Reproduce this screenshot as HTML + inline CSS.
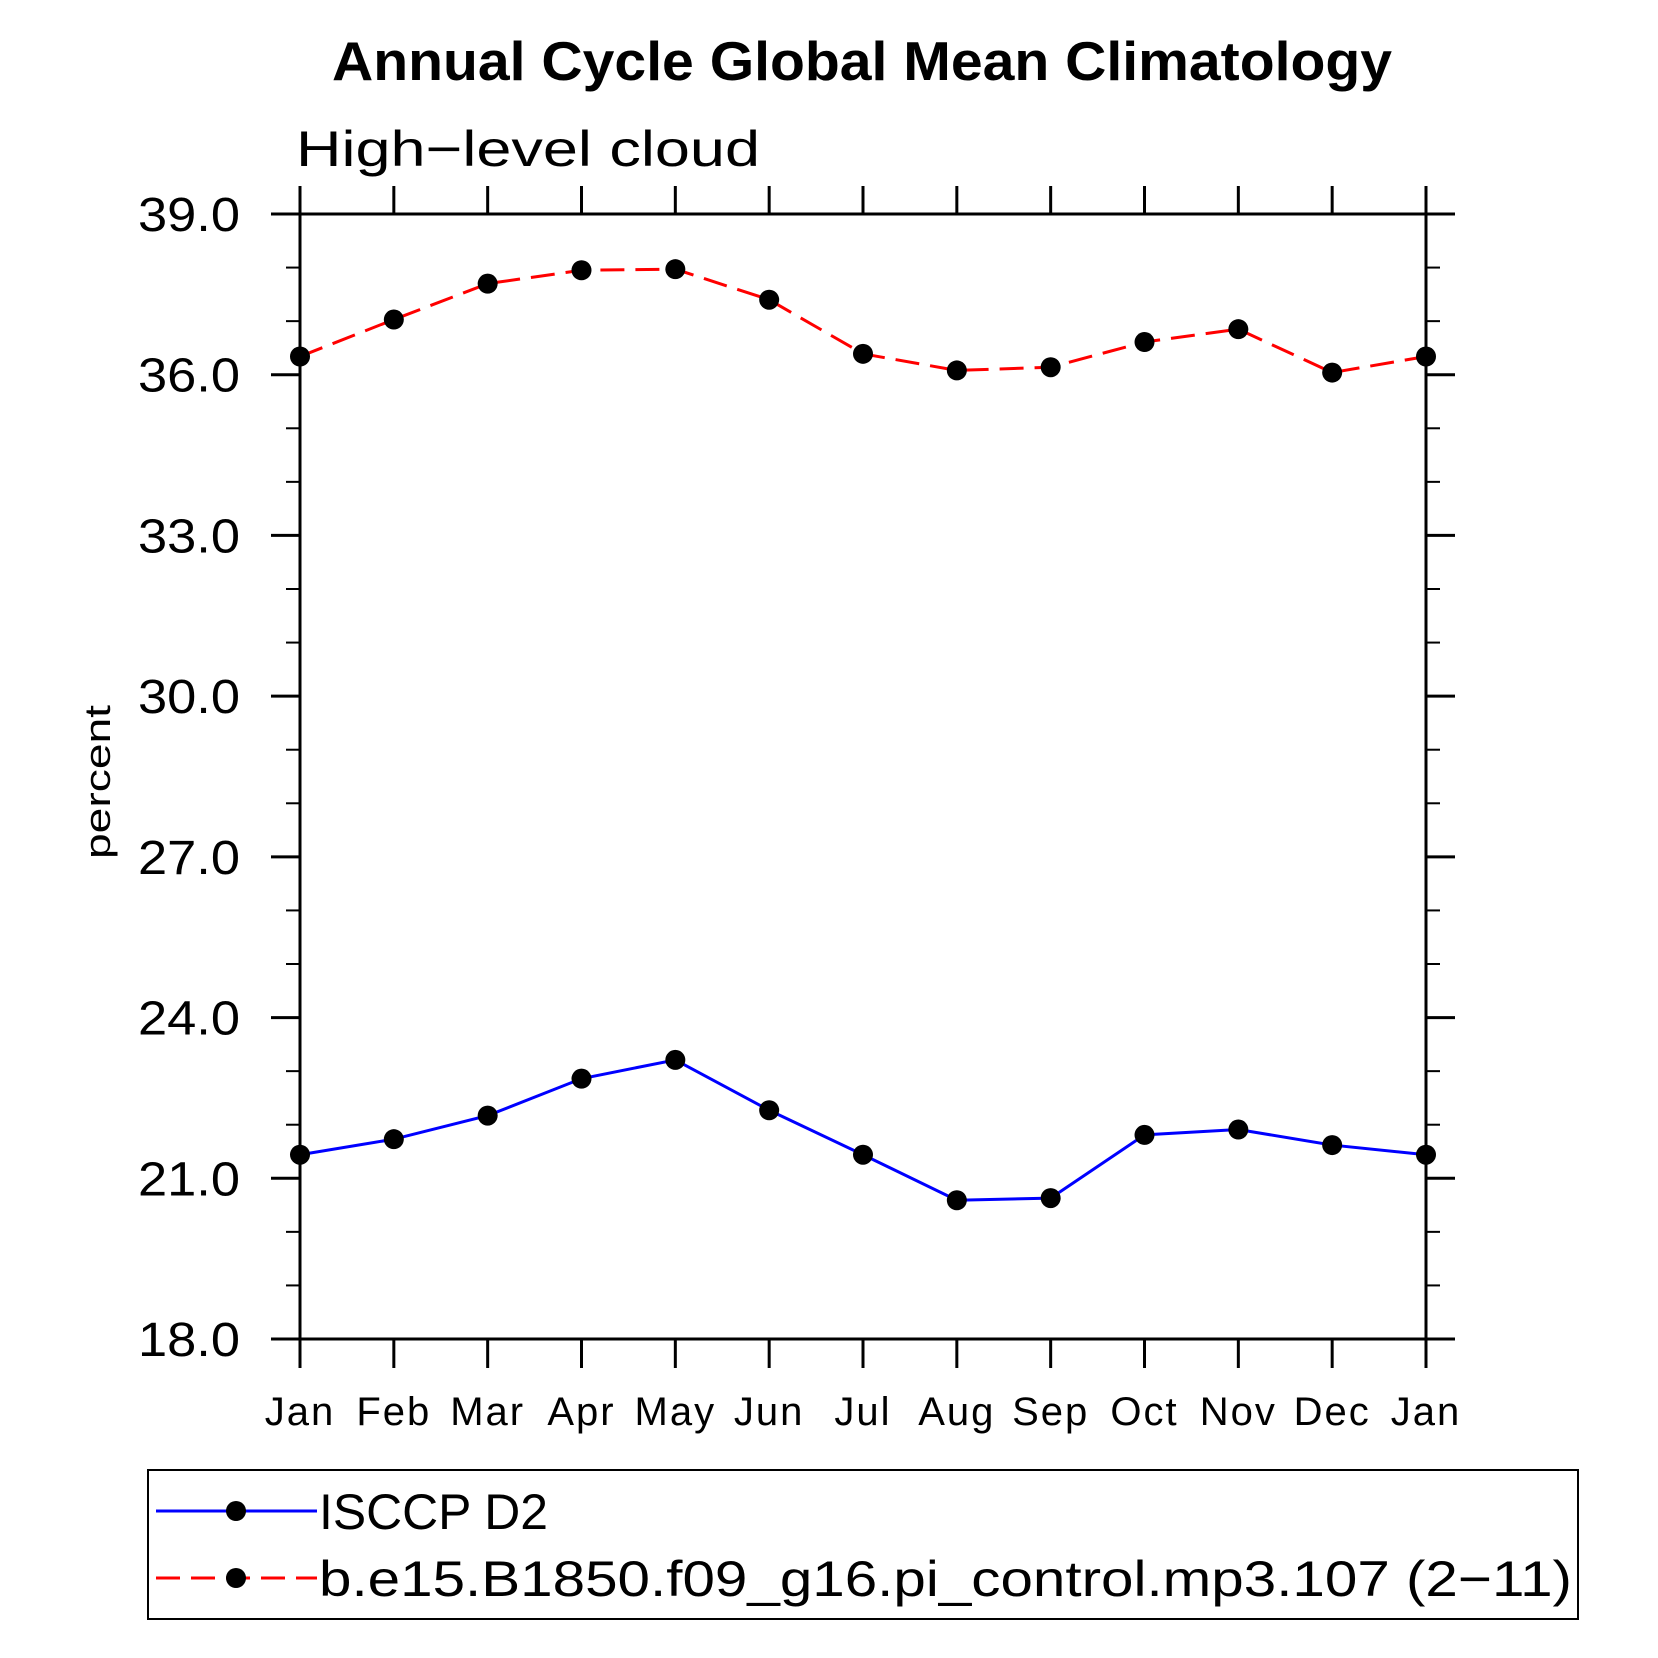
<!DOCTYPE html>
<html><head><meta charset="utf-8"><style>
html,body{margin:0;padding:0;background:#fff}
svg{display:block;font-family:"Liberation Sans",sans-serif}
</style></head><body>
<svg id="chart" width="1658" height="1658" viewBox="0 0 1658 1658" xmlns="http://www.w3.org/2000/svg">
<text x="862" y="80" text-anchor="middle" font-size="55" font-weight="bold" textLength="1060" lengthAdjust="spacingAndGlyphs">Annual Cycle Global Mean Climatology</text>
<text x="296" y="166" font-size="50" font-weight="300" textLength="464" lengthAdjust="spacingAndGlyphs">High−level cloud</text>
<text transform="translate(110,782) rotate(-90)" text-anchor="middle" font-size="36" textLength="154" lengthAdjust="spacingAndGlyphs">percent</text>
<g id="axes"></g>
<g id="series"></g>
<rect x="148" y="1470" width="1430" height="149" fill="none" stroke="#000" stroke-width="2"/>
<g>
<line x1="156" y1="1511" x2="317" y2="1511" stroke="#0000ff" stroke-width="3"/>
<circle cx="236" cy="1511" r="10"/>
<text x="319" y="1529" font-size="50" textLength="229" lengthAdjust="spacingAndGlyphs">ISCCP D2</text>
</g>
<g>
<line x1="156" y1="1578" x2="317" y2="1578" stroke="#ff0000" stroke-width="3" stroke-dasharray="24,11"/>
<circle cx="236" cy="1578" r="10"/>
<text x="319" y="1596" font-size="50" textLength="1253" lengthAdjust="spacingAndGlyphs">b.e15.B1850.f09_g16.pi_control.mp3.107 (2−11)</text>
</g>
</svg>
<script>
const months = ["Jan","Feb","Mar","Apr","May","Jun","Jul","Aug","Sep","Oct","Nov","Dec","Jan"];
const isccpValues = [21.44,21.73,22.17,22.86,23.21,22.27,21.44,20.59,20.63,21.81,21.91,21.62,21.44];
const modelValues = [36.34,37.03,37.70,37.95,37.97,37.40,36.39,36.08,36.14,36.61,36.85,36.04,36.34];
const yTickValues = [18,21,24,27,30,33,36,39];
const yTickLabels = ["18.0","21.0","24.0","27.0","30.0","33.0","36.0","39.0"];
const yMin = 18, yMax = 39;

const NS = "http://www.w3.org/2000/svg";
const L = 300, R = 1426, T = 214, B = 1339;
function xs(i){ return L + (R - L) * i / (months.length - 1); }
function ys(v){ return B - (B - T) * (v - yMin) / (yMax - yMin); }
function mk(tag, attrs, parent){
  const e = document.createElementNS(NS, tag);
  for (const k in attrs) e.setAttribute(k, attrs[k]);
  parent.appendChild(e); return e;
}
const axes = document.getElementById("axes");
const frame = mk("rect", {x:L, y:T, width:R-L, height:B-T, fill:"none", stroke:"#000", "stroke-width":3}, axes);


months.forEach((m, i) => {
  const x = xs(i);
  const t1 = mk("line", {x1:x, y1:B, x2:x, y2:B+29, stroke:"#000", "stroke-width":3}, axes);
  
  
  const t2 = mk("line", {x1:x, y1:T, x2:x, y2:T-28, stroke:"#000", "stroke-width":3}, axes);
  
  
  const lab = mk("text", {x:x, y:1425, "text-anchor":"middle", "font-size":40, "letter-spacing":2}, axes);
  lab.textContent = m;
  
  
});
yTickValues.forEach((v, i) => {
  const y = ys(v);
  const a = mk("line", {x1:L-29, y1:y, x2:L, y2:y, stroke:"#000", "stroke-width":3}, axes);
  
  
  const b = mk("line", {x1:R, y1:y, x2:R+29, y2:y, stroke:"#000", "stroke-width":3}, axes);
  
  
  const lab = mk("text", {x:240, y:y+17, "text-anchor":"end", "font-size":48, textLength:102, lengthAdjust:"spacingAndGlyphs"}, axes);
  lab.textContent = yTickLabels[i];
  
  
});
for (let v = yMin + 1; v < yMax; v++) {
  if ((v - yMin) % 3 === 0) continue;
  const y = ys(v);
  const a = mk("line", {x1:L-14, y1:y, x2:L, y2:y, stroke:"#000", "stroke-width":2}, axes);
  
  
  const b = mk("line", {x1:R, y1:y, x2:R+14, y2:y, stroke:"#000", "stroke-width":2}, axes);
  
  
}
const series = document.getElementById("series");
function drawSeries(vals, color, dash, name){
  const pts = vals.map((v, i) => xs(i) + "," + ys(v)).join(" ");
  const attrs = {points:pts, fill:"none", stroke:color, "stroke-width":3};
  if (dash) attrs["stroke-dasharray"] = dash;
  const pl = mk("polyline", attrs, series);
  
  
  vals.forEach((v, i) => {
    const c = mk("circle", {cx:xs(i), cy:ys(v), r:10, fill:"#000"}, series);
    
    
  });
}
drawSeries(isccpValues, "#0000ff", null, "isccp");
drawSeries(modelValues, "#ff0000", "24,11", "model");
</script>
</body></html>
